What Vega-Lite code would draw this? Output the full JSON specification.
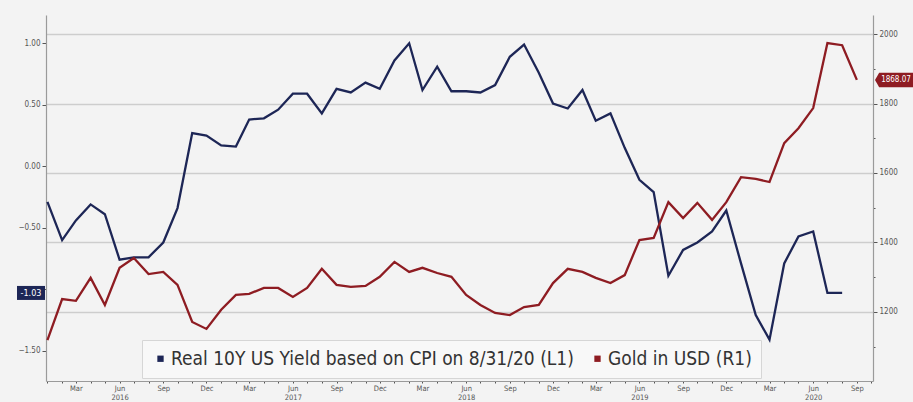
{
  "$schema": "https://vega.github.io/schema/vega-lite/v6.json",
  "width": 827,
  "height": 366,
  "autosize": {"type": "none"},
  "padding": {"left": 46, "top": 15, "right": 40, "bottom": 21},
  "background": "#f3f3f3",
  "config": {
    "view": {"stroke": null},
    "font": "DejaVu Sans Condensed, Liberation Sans Narrow, DejaVu Sans",
    "axis": {"labelFont": "DejaVu Sans Condensed, Liberation Sans Narrow, DejaVu Sans", "labelFontSize": 8, "labelColor": "#555", "domainColor": "#9a9a9a", "tickColor": "#555", "domainWidth": 1.2}
  },
  "datasets": {
    "main": [
      {"date": "2016-01-01", "yield": -0.29, "gold": 1119},
      {"date": "2016-02-01", "yield": -0.60, "gold": 1237},
      {"date": "2016-03-01", "yield": -0.44, "gold": 1232},
      {"date": "2016-04-01", "yield": -0.31, "gold": 1298},
      {"date": "2016-05-01", "yield": -0.39, "gold": 1220},
      {"date": "2016-06-01", "yield": -0.76, "gold": 1327},
      {"date": "2016-07-01", "yield": -0.74, "gold": 1355},
      {"date": "2016-08-01", "yield": -0.74, "gold": 1309},
      {"date": "2016-09-01", "yield": -0.62, "gold": 1315},
      {"date": "2016-10-01", "yield": -0.34, "gold": 1278},
      {"date": "2016-11-01", "yield": 0.27, "gold": 1171},
      {"date": "2016-12-01", "yield": 0.25, "gold": 1151},
      {"date": "2017-01-01", "yield": 0.17, "gold": 1206},
      {"date": "2017-02-01", "yield": 0.16, "gold": 1249},
      {"date": "2017-03-01", "yield": 0.38, "gold": 1252},
      {"date": "2017-04-01", "yield": 0.39, "gold": 1269},
      {"date": "2017-05-01", "yield": 0.46, "gold": 1269},
      {"date": "2017-06-01", "yield": 0.59, "gold": 1243},
      {"date": "2017-07-01", "yield": 0.59, "gold": 1269},
      {"date": "2017-08-01", "yield": 0.43, "gold": 1324},
      {"date": "2017-09-01", "yield": 0.63, "gold": 1278},
      {"date": "2017-10-01", "yield": 0.60, "gold": 1272},
      {"date": "2017-11-01", "yield": 0.68, "gold": 1275},
      {"date": "2017-12-01", "yield": 0.63, "gold": 1301},
      {"date": "2018-01-01", "yield": 0.86, "gold": 1344},
      {"date": "2018-02-01", "yield": 1.00, "gold": 1315},
      {"date": "2018-03-01", "yield": 0.62, "gold": 1327},
      {"date": "2018-04-01", "yield": 0.81, "gold": 1312},
      {"date": "2018-05-01", "yield": 0.61, "gold": 1301},
      {"date": "2018-06-01", "yield": 0.61, "gold": 1249},
      {"date": "2018-07-01", "yield": 0.60, "gold": 1220},
      {"date": "2018-08-01", "yield": 0.66, "gold": 1197},
      {"date": "2018-09-01", "yield": 0.89, "gold": 1191},
      {"date": "2018-10-01", "yield": 0.99, "gold": 1214},
      {"date": "2018-11-01", "yield": 0.76, "gold": 1220},
      {"date": "2018-12-01", "yield": 0.51, "gold": 1283},
      {"date": "2019-01-01", "yield": 0.47, "gold": 1324},
      {"date": "2019-02-01", "yield": 0.62, "gold": 1315},
      {"date": "2019-03-01", "yield": 0.37, "gold": 1298},
      {"date": "2019-04-01", "yield": 0.43, "gold": 1283},
      {"date": "2019-05-01", "yield": 0.15, "gold": 1306},
      {"date": "2019-06-01", "yield": -0.11, "gold": 1407},
      {"date": "2019-07-01", "yield": -0.21, "gold": 1413},
      {"date": "2019-08-01", "yield": -0.89, "gold": 1516},
      {"date": "2019-09-01", "yield": -0.68, "gold": 1470},
      {"date": "2019-10-01", "yield": -0.62, "gold": 1514},
      {"date": "2019-11-01", "yield": -0.53, "gold": 1465},
      {"date": "2019-12-01", "yield": -0.36, "gold": 1516},
      {"date": "2020-01-01", "yield": -0.79, "gold": 1588},
      {"date": "2020-02-01", "yield": -1.21, "gold": 1583},
      {"date": "2020-03-01", "yield": -1.41, "gold": 1574},
      {"date": "2020-04-01", "yield": -0.79, "gold": 1686},
      {"date": "2020-05-01", "yield": -0.57, "gold": 1729},
      {"date": "2020-06-01", "yield": -0.53, "gold": 1787},
      {"date": "2020-07-01", "yield": -1.03, "gold": 1974},
      {"date": "2020-08-01", "yield": -1.03, "gold": 1968},
      {"date": "2020-09-01", "yield": null, "gold": 1868.07}
    ],
    "yieldLabel": [{"value": -1.03, "text": "-1.03"}],
    "goldLabel": [{"value": 1868.07, "text": "1868.07"}]
  },
  "layer": [
    {
      "layer": [
        {
          "data": {"name": "main"},
          "mark": {"type": "line", "strokeWidth": 2.3, "strokeJoin": "miter"},
          "encoding": {
            "x": {
              "field": "date", "type": "temporal",
              "scale": {"type": "utc", "domain": [{"year": 2015, "month": 12, "date": 29, "utc": true}, {"year": 2020, "month": 10, "date": 5, "utc": true}]},
              "axis": {
                "title": null, "grid": false, "tickCount": {"interval": "month", "step": 1},
                "labelExpr": "utcmonth(datum.value) == 5 ? ['Jun', '' + utcyear(datum.value)] : (utcmonth(datum.value) % 3 == 2 ? utcFormat(datum.value, '%b') : '')",
                "labelOverlap": false, "labelFlush": false, "labelAngle": 0, "tickSize": 2, "labelPadding": 1, "labelLineHeight": 9, "labelFontSize": 7.5
              }
            },
            "y": {
              "field": "yield", "type": "quantitative",
              "scale": {"domain": [-1.746, 1.23], "nice": false, "zero": false},
              "axis": {
                "orient": "left", "title": null, "grid": false,
                "values": [-1.5, -1.25, -1, -0.75, -0.5, -0.25, 0, 0.25, 0.5, 0.75, 1],
                "labelExpr": "abs(datum.value * 2 - round(datum.value * 2)) < 0.01 && abs(datum.value + 1) > 0.01 ? format(datum.value, '.2f') : ''",
                "tickSize": {"condition": {"test": "abs(datum.value * 2 - round(datum.value * 2)) < 0.01", "value": 4}, "value": 2},
                "labelPadding": 2
              }
            },
            "color": {
              "datum": "Real 10Y US Yield based on CPI on 8/31/20 (L1)", "type": "nominal",
              "scale": {"domain": ["Real 10Y US Yield based on CPI on 8/31/20 (L1)", "Gold in USD (R1)"], "range": ["#1d2656", "#8e1c22"]},
              "legend": {
                "title": null, "orient": "none", "legendX": 96, "legendY": 325, "direction": "horizontal",
                "fillColor": "#f8f8f8", "strokeColor": "#d6d6d6", "padding": 9,
                "labelFont": "DejaVu Sans Condensed, Liberation Sans Narrow, DejaVu Sans", "labelFontSize": 19, "labelColor": "#333",
                "labelLimit": 700, "labelOffset": 1, "columnPadding": 14,
                "symbolType": "square", "symbolSize": 40, "symbolStrokeWidth": 0,
                "encode": {"symbols": {"update": {"fill": {"scale": "color", "field": "value"}, "stroke": {"value": "transparent"}}}}
              }
            }
          }
        },
        {
          "data": {"name": "yieldLabel"},
          "mark": {"type": "point", "shape": "M-1,-0.5L1,-0.5L1,0.5L-1,0.5Z", "size": 784, "filled": true, "opacity": 1, "color": "#1d2656", "xOffset": -15},
          "encoding": {
            "x": {"datum": {"year": 2015, "month": 12, "date": 29, "utc": true}, "type": "temporal"},
            "y": {"field": "value", "type": "quantitative", "scale": {"domain": [-1.746, 1.23], "nice": false, "zero": false}}
          }
        },
        {
          "data": {"name": "yieldLabel"},
          "mark": {"type": "text", "color": "white", "fontSize": 9, "xOffset": -15, "align": "center", "baseline": "middle"},
          "encoding": {
            "x": {"datum": {"year": 2015, "month": 12, "date": 29, "utc": true}, "type": "temporal"},
            "y": {"field": "value", "type": "quantitative", "scale": {"domain": [-1.746, 1.23], "nice": false, "zero": false}},
            "text": {"field": "text"}
          }
        }
      ]
    },
    {
      "layer": [
        {
          "data": {"name": "main"},
          "mark": {"type": "line", "strokeWidth": 2.3, "strokeJoin": "miter"},
          "encoding": {
            "x": {"field": "date", "type": "temporal"},
            "y": {
              "field": "gold", "type": "quantitative",
              "scale": {"domain": [1001, 2055], "nice": false, "zero": false},
              "axis": {
                "orient": "right", "title": null,
                "values": [1100, 1200, 1300, 1400, 1500, 1600, 1700, 1800, 1900, 2000],
                "labelExpr": "datum.value % 200 == 0 ? '' + datum.value : ''",
                "grid": true,
                "gridColor": {"condition": {"test": "datum.value % 200 == 0", "value": "#cdcdcd"}, "value": "transparent"},
                "gridWidth": 1.5,
                "tickSize": {"condition": {"test": "datum.value % 200 == 0", "value": 4}, "value": 2},
                "labelPadding": 2
              }
            },
            "color": {"datum": "Gold in USD (R1)", "type": "nominal"}
          }
        },
        {
          "data": {"name": "goldLabel"},
          "mark": {"type": "point", "shape": "M-1,0L-0.78,-0.38L1,-0.38L1,0.38L-0.78,0.38Z", "size": 1444, "filled": true, "opacity": 1, "color": "#8e1c22", "xOffset": 21},
          "encoding": {
            "x": {"datum": {"year": 2020, "month": 10, "date": 5, "utc": true}, "type": "temporal"},
            "y": {"field": "value", "type": "quantitative", "scale": {"domain": [1001, 2055], "nice": false, "zero": false}}
          }
        },
        {
          "data": {"name": "goldLabel"},
          "mark": {"type": "text", "color": "white", "fontSize": 8, "xOffset": 23, "align": "center", "baseline": "middle"},
          "encoding": {
            "x": {"datum": {"year": 2020, "month": 10, "date": 5, "utc": true}, "type": "temporal"},
            "y": {"field": "value", "type": "quantitative", "scale": {"domain": [1001, 2055], "nice": false, "zero": false}},
            "text": {"field": "text"}
          }
        }
      ]
    }
  ],
  "resolve": {"scale": {"y": "independent"}}
}
